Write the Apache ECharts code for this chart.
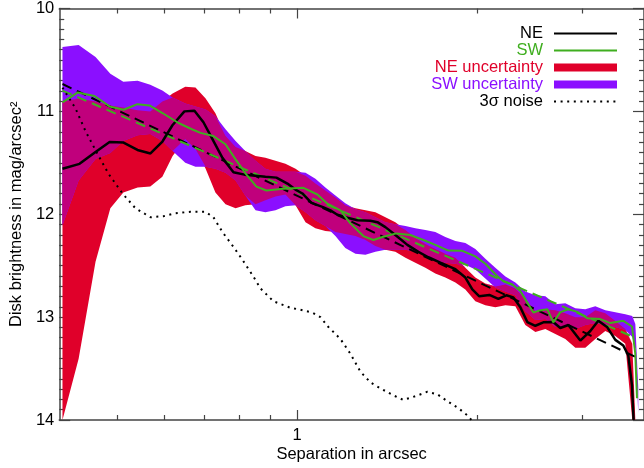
<!DOCTYPE html>
<html><head><meta charset="utf-8">
<script src="https://cdn.jsdelivr.net/npm/echarts@6/dist/echarts.min.js"></script>
<style>html,body{margin:0;padding:0;background:#fff}#c{width:644px;height:468px}</style>
</head><body><div id="c"></div>
<script>
// ---- axis ranges and ticks ----
const X_MIN = 0.4, X_MAX = 3.805;
const Y_MIN = 10, Y_MAX = 14;
const xMajorTicks = [1];
const xMinorTicks = [0.5, 0.6, 0.7, 0.8, 0.9, 2, 3];

// ---- NE / SW surface-brightness profiles [separation arcsec, mag/arcsec^2] ----
const neLine = [[0.405,11.558],[0.4325,11.510],[0.460,11.394],[0.4856,11.298],[0.5124,11.303],[0.5406,11.375],[0.5684,11.409],[0.5952,11.293],[0.6186,11.135],[0.6478,11.0],[0.6733,10.993],[0.6971,11.106],[0.7217,11.269],[0.750,11.452],[0.7825,11.591],[0.8164,11.615],[0.8517,11.625],[0.8851,11.635],[0.9234,11.644],[0.9633,11.702],[0.9935,11.760],[1.0206,11.798],[1.0566,11.889],[1.1022,11.928],[1.1368,11.962],[1.168,12.005],[1.2137,12.034],[1.2613,12.058],[1.3262,12.063],[1.3623,12.077],[1.405,12.125],[1.4602,12.202],[1.5292,12.298],[1.5953,12.365],[1.658,12.418],[1.7364,12.471],[1.8398,12.534],[1.912,12.615],[1.964,12.731],[2.0177,12.798],[2.097,12.784],[2.171,12.822],[2.2387,12.788],[2.300,12.808],[2.363,12.904],[2.4275,13.048],[2.5036,13.084],[2.5817,13.051],[2.6831,13.048],[2.7563,13.106],[2.8427,13.077],[2.9771,13.228],[3.094,13.135],[3.191,13.036],[3.3034,13.099],[3.4071,13.221],[3.5132,13.276],[3.5815,13.372],[3.6329,13.661],[3.6554,14.0]];
const swLine = [[0.405,10.913],[0.4291,10.817],[0.4582,10.851],[0.4856,10.952],[0.5124,10.984],[0.5406,10.930],[0.5663,10.942],[0.5952,11.016],[0.6332,11.113],[0.6682,11.176],[0.6892,11.209],[0.7244,11.240],[0.7588,11.320],[0.7886,11.464],[0.8227,11.615],[0.855,11.731],[0.8885,11.769],[0.9486,11.753],[1.0246,11.743],[1.0813,11.808],[1.1237,11.897],[1.1815,11.962],[1.2278,12.089],[1.2908,12.212],[1.3415,12.25],[1.3942,12.218],[1.4656,12.186],[1.5469,12.202],[1.6263,12.25],[1.7034,12.298],[1.7909,12.353],[1.89,12.356],[1.9871,12.409],[2.0651,12.481],[2.1626,12.603],[2.213,12.651],[2.2911,12.683],[2.363,12.747],[2.4275,12.859],[2.4842,12.955],[2.5325,12.939],[2.6216,12.923],[2.6831,13.051],[2.7563,12.952],[2.8427,12.923],[2.943,12.949],[3.058,13.010],[3.2155,13.019],[3.3417,13.058],[3.5132,13.036],[3.6329,13.091],[3.6793,13.356],[3.7035,13.788]];
const noiseLine = [[0.405,10.769],[0.4258,10.971],[0.4426,11.192],[0.4635,11.413],[0.4835,11.606],[0.5104,11.798],[0.5365,11.942],[0.5684,12.029],[0.5976,12.019],[0.6259,11.990],[0.6631,11.976],[0.7026,11.976],[0.7244,12.029],[0.750,12.173],[0.7825,12.317],[0.8101,12.442],[0.8451,12.606],[0.8683,12.721],[0.9128,12.846],[0.9745,12.909],[1.0128,12.928],[1.0607,12.957],[1.0938,13.0],[1.1281,13.096],[1.1815,13.212],[1.2278,13.356],[1.2759,13.529],[1.3262,13.635],[1.3782,13.692],[1.4488,13.760],[1.5057,13.805],[1.5771,13.769],[1.6516,13.726],[1.7164,13.75],[1.7839,13.817],[1.8611,13.885],[1.9342,13.962],[1.9567,14.0]];
const neFit = [[0.405,10.734],[3.704,13.394]];
const swFit = [[0.405,10.798],[3.609,13.180]];

// ---- uncertainty bands (shared separation grid) ----
const bandSep = [0.405,0.431,0.460,0.487,0.512,0.541,0.568,0.595,0.619,0.650,0.676,0.703,0.730,0.759,0.789,0.819,0.852,0.885,0.920,0.956,0.994,1.033,1.073,1.115,1.159,1.204,1.252,1.301,1.352,1.405,1.460,1.518,1.577,1.639,1.703,1.770,1.840,1.912,1.987,2.065,2.146,2.231,2.318,2.409,2.504,2.602,2.704,2.810,2.921,3.035,3.154,3.278,3.407,3.540,3.637,3.680,3.722];
const swUpper = [10.375,10.356,10.471,10.635,10.712,10.702,10.740,10.798,10.865,10.923,10.952,10.981,11.048,11.173,11.288,11.385,11.481,11.558,11.587,11.587,11.587,11.596,11.654,11.740,11.817,11.894,11.952,11.981,12.029,12.077,12.096,12.115,12.135,12.154,12.173,12.221,12.260,12.279,12.337,12.433,12.519,12.606,12.663,12.750,12.788,12.798,12.875,12.865,12.913,12.923,12.894,12.933,12.952,12.971,12.990,13.067,13.692];
const swLower = [12.106,11.673,11.462,11.404,11.288,11.231,11.221,11.288,11.385,11.500,11.538,11.538,11.558,11.596,11.673,11.817,11.962,11.981,11.962,11.923,11.913,11.981,12.058,12.115,12.212,12.327,12.385,12.394,12.365,12.346,12.346,12.346,12.365,12.404,12.442,12.471,12.481,12.490,12.538,12.625,12.712,12.750,12.788,12.942,13.029,13.019,13.096,13.087,13.115,13.077,13.058,13.077,13.096,13.125,13.192,13.308,13.933];
const neUpper = [10.904,10.875,10.904,10.942,10.962,10.990,11.000,10.904,10.827,10.760,10.769,10.875,11.019,11.240,11.346,11.385,11.433,11.452,11.481,11.510,11.558,11.625,11.702,11.769,11.837,11.913,11.942,11.962,11.981,12.029,12.077,12.154,12.231,12.288,12.337,12.385,12.423,12.519,12.615,12.673,12.702,12.683,12.721,12.827,12.942,12.923,12.933,12.962,13.000,13.000,12.933,12.962,13.038,13.115,13.260,14.0,14.0];
const neLower = [14.0,13.404,12.462,11.942,11.788,11.740,11.731,11.635,11.433,11.269,11.365,11.558,11.788,11.904,11.942,11.913,11.904,11.865,11.827,11.808,11.913,12.077,12.135,12.163,12.173,12.192,12.212,12.250,12.308,12.346,12.365,12.423,12.471,12.519,12.577,12.615,12.663,12.731,12.846,12.885,12.904,12.885,12.894,13.077,13.144,13.115,13.163,13.212,13.298,13.298,13.212,13.135,13.183,13.260,14.0,14.0,14.0];

// ---- styles ----
const FONT = "'Liberation Sans', Arial, Helvetica, sans-serif";
const AX = '#444';
const BLACK = '#000000', GREEN = '#3fae1f', RED = '#e0002a', PURPLE = '#8b0fff', OVERLAP = '#c0007c';

// overlap of both bands (derived)
const ovUpper = bandSep.map((_, i) => Math.max(neUpper[i], swUpper[i]));
const ovLower = bandSep.map((_, i) => Math.max(ovUpper[i], Math.min(neLower[i], swLower[i])));

function bandRender(up, lo, color) {
  return function (params, api) {
    if (params.dataIndex !== 0) return null;
    const pts = [];
    for (let i = 0; i < bandSep.length; i++) pts.push(api.coord([bandSep[i], up[i]]));
    for (let i = bandSep.length - 1; i >= 0; i--) pts.push(api.coord([bandSep[i], lo[i]]));
    return { type: 'polygon', shape: { points: pts }, style: { fill: color } };
  };
}

function tickAxis(pos, vals, len, withLine, withLabel) {
  return {
    type: 'value', position: pos, min: Math.log10(X_MIN), max: Math.log10(X_MAX),
    axisLine: { show: !!withLine, onZero: false, lineStyle: { color: AX, width: 1.5 } },
    splitLine: { show: false },
    axisTick: { show: true, inside: true, length: len, customValues: vals.map(v => Math.log10(v)), lineStyle: { color: AX, width: 1.2 } },
    axisLabel: withLabel ? {
      show: true, customValues: vals.map(v => Math.log10(v)), margin: 7,
      formatter: v => String(Math.round(Math.pow(10, v))), fontSize: 16.5, color: '#000', fontFamily: FONT
    } : { show: false }
  };
}

const yBase = (pos, withLabel) => ({
  type: 'value', inverse: true, min: Y_MIN, max: Y_MAX, interval: 1, position: pos,
  axisLine: { show: true, onZero: false, lineStyle: { color: AX, width: 1.5 } },
  axisTick: { show: true, inside: true, length: 11, lineStyle: { color: AX, width: 1.2 } },
  minorTick: { show: true, splitNumber: 10, length: 5, lineStyle: { color: AX, width: 1.2 } },
  splitLine: { show: false }, minorSplitLine: { show: false },
  axisLabel: withLabel ? { show: true, fontSize: 16.5, color: '#000', margin: 5, fontFamily: FONT } : { show: false }
});

const chart = echarts.init(document.getElementById('c'), null, { renderer: 'canvas' });
chart.setOption({
  animation: false,
  backgroundColor: '#fff',
  grid: { left: 59, right: 0, top: 6, bottom: 46, containLabel: false },
  xAxis: [
    {
      type: 'log', logBase: 10, min: X_MIN, max: X_MAX, position: 'bottom',
      axisLine: { show: true, onZero: false, lineStyle: { color: AX, width: 1.5 } },
      axisTick: { show: false }, axisLabel: { show: false }, splitLine: { show: false },
      name: 'Separation in arcsec', nameLocation: 'middle', nameGap: 26,
      nameTextStyle: { fontSize: 16.5, color: '#000', fontFamily: FONT }
    },
    tickAxis('bottom', xMinorTicks, 5, false, false),
    tickAxis('bottom', xMajorTicks, 10, false, true),
    tickAxis('top', xMinorTicks, 5, true, false),
    tickAxis('top', xMajorTicks, 10, false, false)
  ],
  yAxis: [
    Object.assign(yBase('left', true), {
      name: 'Disk brightness in mag/arcsec\u00B2', nameLocation: 'middle', nameGap: 29,
      nameTextStyle: { fontSize: 16.5, color: '#000', fontFamily: FONT }
    }),
    yBase('right', false)
  ],
  legend: {
    orient: 'vertical', align: 'right', right: 26, top: 25, padding: 0,
    itemWidth: 63, itemHeight: 14, itemGap: 0, selectedMode: false,
    textStyle: { fontSize: 16.5, lineHeight: 16.7, fontFamily: FONT, padding: [0, 6, 0, 0] },
    data: [
      { name: 'NE', itemStyle: { opacity: 0 }, textStyle: { color: BLACK } },
      { name: 'SW', itemStyle: { opacity: 0 }, textStyle: { color: GREEN } },
      { name: 'NE uncertainty', icon: 'path://M0,0h63v8h-63z', textStyle: { color: RED } },
      { name: 'SW uncertainty', icon: 'path://M0,0h63v8h-63z', textStyle: { color: PURPLE } },
      { name: '3\u03C3 noise', itemStyle: { opacity: 0 }, textStyle: { color: BLACK } }
    ]
  },
  series: [
    { type: 'custom', name: 'NE uncertainty', xAxisIndex: 0, yAxisIndex: 0, z: 1, silent: true,
      itemStyle: { color: RED }, data: [[bandSep[0], neUpper[0]]], renderItem: bandRender(neUpper, neLower, RED) },
    { type: 'custom', name: 'SW uncertainty', xAxisIndex: 0, yAxisIndex: 0, z: 1, silent: true,
      itemStyle: { color: PURPLE }, data: [[bandSep[0], swUpper[0]]], renderItem: bandRender(swUpper, swLower, PURPLE) },
    { type: 'custom', name: 'overlap', xAxisIndex: 0, yAxisIndex: 0, z: 1, silent: true,
      itemStyle: { color: OVERLAP }, data: [[bandSep[0], ovUpper[0]]], renderItem: bandRender(ovUpper, ovLower, OVERLAP) },
    { type: 'line', name: 'NE fit', data: neFit, xAxisIndex: 0, yAxisIndex: 0, z: 3, symbol: 'none', silent: true,
      lineStyle: { color: BLACK, width: 2, type: [10, 6] } },
    { type: 'line', name: 'SW fit', data: swFit, xAxisIndex: 0, yAxisIndex: 0, z: 3, symbol: 'none', silent: true,
      lineStyle: { color: GREEN, width: 2, type: [10, 6] } },
    { type: 'line', name: '3\u03C3 noise', data: noiseLine, xAxisIndex: 0, yAxisIndex: 0, z: 3, symbol: 'none', silent: true,
      itemStyle: { color: BLACK }, lineStyle: { color: BLACK, width: 2, type: [2, 4.6] } },
    { type: 'line', name: 'NE', data: neLine, xAxisIndex: 0, yAxisIndex: 0, z: 4, symbol: 'none', silent: true,
      itemStyle: { color: BLACK }, lineStyle: { color: BLACK, width: 2.5 } },
    { type: 'line', name: 'SW', data: swLine, xAxisIndex: 0, yAxisIndex: 0, z: 4, symbol: 'none', silent: true,
      itemStyle: { color: GREEN }, lineStyle: { color: GREEN, width: 2 } }
  ]
});
</script></body></html>
